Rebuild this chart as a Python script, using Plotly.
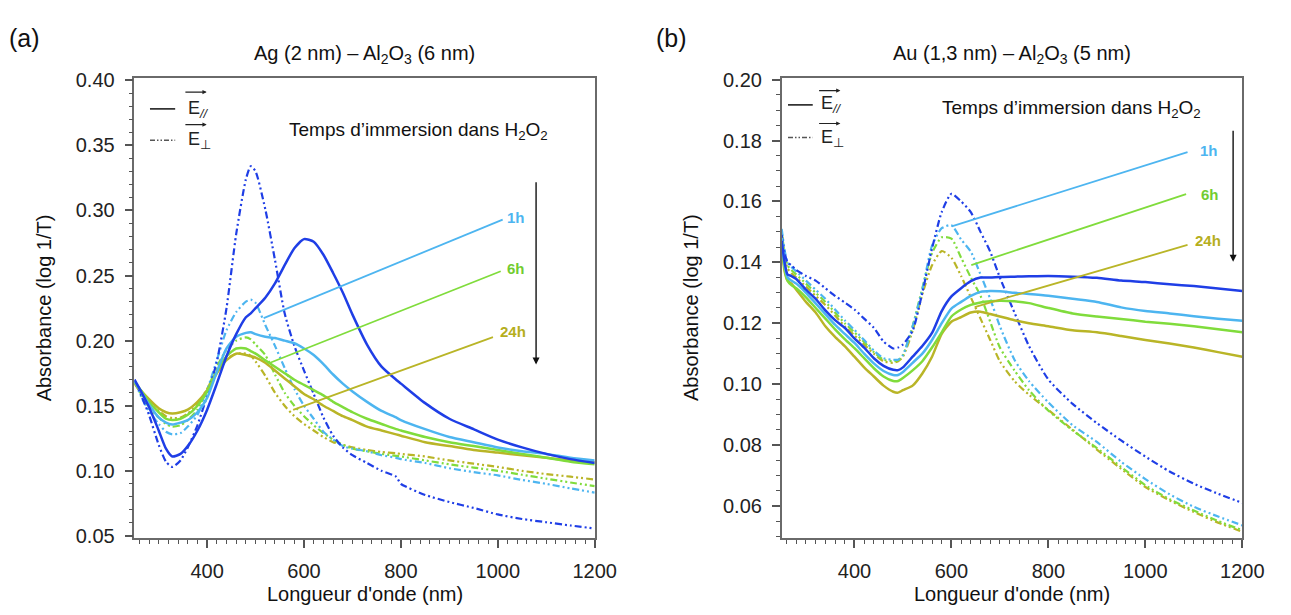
import plotly.graph_objects as go

# ---------------- Panel (a): Ag (2 nm) - Al2O3 (6 nm) ----------------
wl_a = [250, 265, 280, 300, 315, 328, 345, 360, 380, 400, 420, 440, 460, 480, 490, 500, 520, 540, 560,
        580, 600, 620, 640, 660, 680, 700, 730, 760, 790, 800, 850, 900, 950, 1000, 1050, 1100, 1150, 1200]

a_db_par = [.170, .160, .149, .131, .117, .111, .113, .119, .131, .147, .167, .188, .205, .218, .221, .225, .233,
            .244, .258, .271, .278, .276, .266, .252, .237, .220, .197, .180, .170, .167, .152, .140, .132, .124,
            .118, .113, .109, .106]
a_lb_par = [.169, .160, .151, .141, .137, .1356, .137, .139, .145, .156, .176, .194, .203, .206, .2065, .205, .203,
            .202, .200, .198, .194, .189, .182, .174, .167, .161, .153, .146, .141, .139, .132, .126, .122, .118,
            .115, .113, .110, .108]
a_g_par = [.168, .161, .153, .145, .140, .139, .140, .143, .150, .161, .176, .188, .194, .194, .192, .190, .185,
           .180, .175, .170, .166, .162, .158, .153, .149, .145, .140, .136, .132, .131, .126, .122, .119, .116,
           .113, .110, .107, .105]
a_o_par = [.167, .161, .155, .148, .145, .144, .145, .147, .153, .162, .175, .185, .190, .189, .188, .187, .183,
           .177, .171, .165, .159, .155, .150, .146, .142, .139, .134, .131, .128, .127, .122, .119, .116, .114,
           .112, .110, .108, .1065]

a_db_perp = [.170, .157, .143, .120, .107, .103, .108, .118, .135, .158, .184, .225, .282, .324, .334, .330, .301,
             .262, .221, .196, .177, .159, .141, .127, .118, .112, .106, .100, .0955, .090, .0815, .076, .0715,
             .0665, .063, .0605, .058, .0557]
a_lb_perp = [.169, .156, .146, .136, .130, .128, .129, .134, .143, .162, .185, .208, .222, .230, .2315, .229, .212,
             .196, .179, .163, .150, .140, .130, .124, .119, .117, .115, .112, .110, .109, .106, .102, .099, .0965,
             .093, .090, .0865, .0833]
a_g_perp = [.168, .158, .149, .141, .136, .134, .135, .139, .147, .162, .180, .193, .200, .2025, .201, .197, .189,
            .174, .160, .150, .142, .135, .129, .124, .120, .117, .115, .113, .1115, .111, .108, .105, .1025, .100,
            .097, .094, .091, .0883]
a_o_perp = [.167, .159, .152, .146, .142, .1405, .141, .144, .151, .163, .177, .186, .190, .190, .1885, .184, .173,
            .160, .150, .142, .136, .131, .126, .122, .120, .118, .116, .1145, .1135, .113, .111, .108, .1055,
            .103, .100, .0975, .0955, .0933]

# ---------------- Panel (b): Au (1,3 nm) - Al2O3 (5 nm) ----------------
wl_b = [250, 256, 262, 270, 280, 300, 320, 340, 360, 380, 400, 420, 440, 460, 480, 490, 500, 520, 540, 560, 580,
        600, 620, 640, 660, 680, 700, 730, 760, 800, 850, 900, 950, 1000, 1050, 1100, 1150, 1200]

b_db_par = [.147, .140, .136, .1355, .1345, .131, .128, .1242, .121, .1185, .115, .112, .1085, .106, .1047, .1046,
            .1055, .109, .1125, .1168, .124, .1288, .1315, .1338, .135, .135, .1352, .1353, .1354, .1355, .1353,
            .1349, .134, .1335, .1328, .1322, .1314, .1306]
b_lb_par = [.148, .139, .135, .134, .133, .130, .1265, .123, .1195, .1165, .1135, .110, .1068, .1043, .1030, .1030,
            .1040, .107, .110, .1145, .120, .1248, .127, .129, .1303, .1306, .1305, .1300, .1296, .1290, .1280,
            .1270, .1252, .124, .1232, .1223, .1215, .1208]
b_g_par = [.146, .138, .134, .1325, .1315, .1285, .125, .1215, .118, .1148, .1118, .1085, .1052, .1025, .101, .101,
           .102, .1045, .1075, .112, .117, .1222, .1245, .126, .1268, .1272, .1274, .1272, .1266, .125, .1232,
           .1222, .1214, .1205, .1198, .119, .118, .117]
b_o_par = [.145, .137, .134, .133, .131, .127, .1235, .119, .1155, .1125, .109, .1055, .1025, .0995, .0975, .0972,
           .098, .0995, .1035, .109, .1165, .1205, .122, .1235, .1238, .123, .1222, .121, .120, .119, .1177, .117,
           .1158, .1145, .1133, .112, .1105, .109]

b_db_perp = [.149, .143, .140, .139, .1375, .1355, .134, .1315, .129, .1268, .1245, .1215, .1185, .114, .1117, .112,
             .113, .1175, .130, .1445, .1565, .1625, .160, .1565, .150, .1435, .135, .1235, .1125, .1015, .0935,
             .0872, .0815, .0762, .0713, .0673, .064, .061]
b_lb_perp = [.151, .144, .140, .1385, .137, .134, .131, .128, .1245, .121, .1178, .1145, .111, .1085, .108, .108,
             .1095, .119, .131, .1455, .1512, .1522, .1475, .1435, .136, .128, .119, .108, .101, .094, .0865, .081,
             .0745, .0688, .0638, .0597, .0565, .0536]
b_g_perp = [.150, .143, .139, .1375, .136, .133, .130, .127, .1235, .120, .117, .1138, .1105, .108, .1075, .1078,
            .1095, .119, .1315, .143, .1482, .1478, .1415, .135, .129, .1205, .112, .1045, .098, .0913, .0848, .079,
            .0728, .0668, .0622, .0585, .055, .052]
b_o_perp = [.149, .142, .138, .1365, .135, .132, .129, .126, .1225, .119, .116, .113, .110, .1075, .107, .1075,
            .109, .1175, .1295, .139, .1437, .1415, .1355, .1285, .1215, .1145, .1075, .101, .0965, .0915, .085,
            .0785, .0722, .0662, .0618, .058, .0545, .0515]

# ---------------- annotation data ----------------
time_labels = ["1h", "6h", "24h"]
label_colors = ["#4db5f0", "#72cc30", "#b5ae1e"]
leader_colors = ["#4db5f0", "#80dc3c", "#b9b527"]
# leader lines [(x0, y0), (x1, y1)]
a_leaders = [[(516.7, .2173), (1010, .293)], [(530, .183), (1006, .2533)], [(577.5, .1468), (990, .2027)]]
a_label_pos = [(1037, .2943), (1037, .2558), (1032, .2074)]
b_leaders = [[(600.6, .1518), (1087, .1762)], [(641, .1391), (1084, .1624)], [(648, .1253), (1087, .1457)]]
b_label_pos = [(1131, .1768), (1134, .1622), (1129, .1470)]

DB, LB, GR, OL = "#1f3ee6", "#4db5f0", "#80dc3c", "#b9b527"
DASHDOT = "7px,3px,2px,3px,2px,3px"
FONT = "Arial, Liberation Sans, Helvetica, sans-serif"

fig = go.Figure()

def add_curves(wl, curves, xa, ya):
    for vals, col, dash, w in curves:
        fig.add_trace(go.Scatter(x=wl, y=vals, mode="lines", xaxis=xa, yaxis=ya,
                                 line=dict(color=col, width=w, dash=dash, shape="spline", smoothing=0.6),
                                 showlegend=False, hoverinfo="skip"))

add_curves(wl_a, [
    (a_o_perp, OL, DASHDOT, 2.2), (a_g_perp, GR, DASHDOT, 2.2), (a_lb_perp, LB, DASHDOT, 2.2),
    (a_db_perp, DB, DASHDOT, 2.2),
    (a_o_par, OL, "solid", 2.5), (a_g_par, GR, "solid", 2.5), (a_lb_par, LB, "solid", 2.5),
    (a_db_par, DB, "solid", 2.5)], "x", "y")
add_curves(wl_b, [
    (b_o_perp, OL, DASHDOT, 2.2), (b_g_perp, GR, DASHDOT, 2.2), (b_lb_perp, LB, DASHDOT, 2.2),
    (b_db_perp, DB, DASHDOT, 2.2),
    (b_o_par, OL, "solid", 2.5), (b_g_par, GR, "solid", 2.5), (b_lb_par, LB, "solid", 2.5),
    (b_db_par, DB, "solid", 2.5)], "x2", "y2")

# leader lines
for leaders, xa, ya in [(a_leaders, "x", "y"), (b_leaders, "x2", "y2")]:
    for (p0, p1), col in zip(leaders, leader_colors):
        fig.add_trace(go.Scatter(x=[p0[0], p1[0]], y=[p0[1], p1[1]], mode="lines", xaxis=xa, yaxis=ya,
                                 line=dict(color=col, width=1.8), showlegend=False, hoverinfo="skip"))

# legend samples (solid / dash-dot)
a_leg_x = [282, 334]
a_leg_y = [0.378, 0.354]
b_leg_x = [263, 314]
b_leg_y = [0.1917, 0.1810]
for lx, ly, xa, ya in [(a_leg_x, a_leg_y, "x", "y"), (b_leg_x, b_leg_y, "x2", "y2")]:
    fig.add_trace(go.Scatter(x=lx, y=[ly[0], ly[0]], mode="lines", xaxis=xa, yaxis=ya,
                             line=dict(color="#333", width=1.8), showlegend=False, hoverinfo="skip"))
    fig.add_trace(go.Scatter(x=lx, y=[ly[1], ly[1]], mode="lines", xaxis=xa, yaxis=ya,
                             line=dict(color="#555", width=1.6, dash="5px,2px,1.5px,2px,1.5px,2px"),
                             showlegend=False, hoverinfo="skip"))

# The page body keeps its default 8 px margin: the figure is sized so that the
# whole page is exactly 1291 x 615, and positions below are in page pixels.
PAGE_W, PAGE_H, BODY_M = 1291, 615, 8
W, H = PAGE_W - 2 * BODY_M, PAGE_H - 2 * BODY_M
px = lambda v: (v - BODY_M) / W
py = lambda v: 1 - (v - BODY_M) / H

ann = []
def text(x, y, s, size=20, color="#111", xref="paper", yref="paper", xanchor="center", angle=0):
    ann.append(dict(x=x, y=y, text=s, xref=xref, yref=yref, showarrow=False, xanchor=xanchor,
                    yanchor="middle", textangle=angle, font=dict(size=size, color=color, family=FONT)))

text(px(25), py(30), "(a)", 25)
text(px(683), py(30), "(b)", 25)
text(px(371), py(47), "Ag (2 nm) – Al<sub>2</sub>O<sub>3</sub> (6 nm)", 20)
text(px(1030), py(47), "Au (1,3 nm) – Al<sub>2</sub>O<sub>3</sub> (5 nm)", 20)
text(px(45), py(308), "Absorbance (log 1/T)", 20, angle=-90)
text(px(703), py(308), "Absorbance (log 1/T)", 20, angle=-90)
text(px(371), py(603), "Longueur d'onde (nm)", 20)
text(px(1030), py(603), "Longueur d'onde (nm)", 20)

# "Temps d'immersion" texts
text(837, 0.361, "Temps d’immersion dans H<sub>2</sub>O<sub>2</sub>", 19, xref="x", yref="y")
text(847, 0.1905, "Temps d’immersion dans H<sub>2</sub>O<sub>2</sub>", 19, xref="x2", yref="y2")

# time labels
for (lx, ly), s, c in zip(a_label_pos, time_labels, label_colors):
    text(lx, ly, "<b>" + s + "</b>", 15, c, "x", "y")
for (lx, ly), s, c in zip(b_label_pos, time_labels, label_colors):
    text(lx, ly, "<b>" + s + "</b>", 15, c, "x2", "y2")

# legend E labels
text(383, 0.3774, "E<sub><i>//</i></sub>", 18, "#222", "x", "y")
text(384, 0.3535, "E<sub>⊥</sub>", 18, "#222", "x", "y")
text(353, 0.1918, "E<sub><i>//</i></sub>", 18, "#222", "x2", "y2")
text(354, 0.1806, "E<sub>⊥</sub>", 18, "#222", "x2", "y2")

def arrow(x0, y0, x1, y1, xref, yref, width=1.2, size=0.7, color="#222"):
    ann.append(dict(x=x1, y=y1, ax=x0, ay=y0, xref=xref, yref=yref, axref=xref, ayref=yref,
                    text="", showarrow=True, arrowhead=2, arrowsize=size, arrowwidth=width,
                    arrowcolor=color))

# small vector arrows over E
arrow(352, 0.391, 399, 0.391, "x", "y")
arrow(352, 0.366, 399, 0.366, "x", "y")
arrow(324, 0.1964, 371, 0.1964, "x2", "y2")
arrow(324, 0.1856, 371, 0.1856, "x2", "y2")
# big downward arrows (time direction)
arrow(1079, 0.3228, 1079, 0.1816, "x", "y", width=1.4, size=1.0, color="#111")
arrow(1181, 0.1837, 1181, 0.1402, "x2", "y2", width=1.4, size=1.0, color="#111")

axis_common = dict(showline=True, linecolor="#6a6a6a", linewidth=1.6, mirror=True, ticks="outside",
                   ticklen=8, tickwidth=1.5, tickcolor="#555", showgrid=False, zeroline=False,
                   tickfont=dict(size=20, color="#222", family=FONT))

xdom_a = [px(136.7), px(605)]
xdom_b = [px(795.3), px(1264)]
ydom = [py(545), py(71)]

fig.update_layout(
    width=W, height=H, margin=dict(l=0, r=0, t=0, b=0),
    paper_bgcolor="white", plot_bgcolor="white", showlegend=False,
    font=dict(family=FONT),
    xaxis=dict(domain=xdom_a, range=[250, 1200], dtick=200, tick0=0, anchor="y",
               minor=dict(dtick=20, ticklen=4, ticks="outside", tickcolor="#555", tickwidth=1.3),
               ticklabelstandoff=6, **axis_common),
    yaxis=dict(domain=ydom, range=[0.0485, 0.4017], dtick=0.05, tick0=0, tickformat=".2f", anchor="x",
               minor=dict(dtick=0.01, ticklen=4, ticks="outside", tickcolor="#555", tickwidth=1.3),
               ticklabelstandoff=6, **axis_common),
    xaxis2=dict(domain=xdom_b, range=[250, 1200], dtick=200, tick0=0, anchor="y2",
                minor=dict(dtick=20, ticklen=4, ticks="outside", tickcolor="#555", tickwidth=1.3),
                ticklabelstandoff=6, **axis_common),
    yaxis2=dict(domain=ydom, range=[0.0495, 0.2005], dtick=0.02, tick0=0, tickformat=".2f", anchor="x2",
                minor=dict(dtick=0.005, ticklen=4, ticks="outside", tickcolor="#555", tickwidth=1.3),
                ticklabelstandoff=6, **axis_common),
    annotations=ann,
)

fig.write_html("out.html")
